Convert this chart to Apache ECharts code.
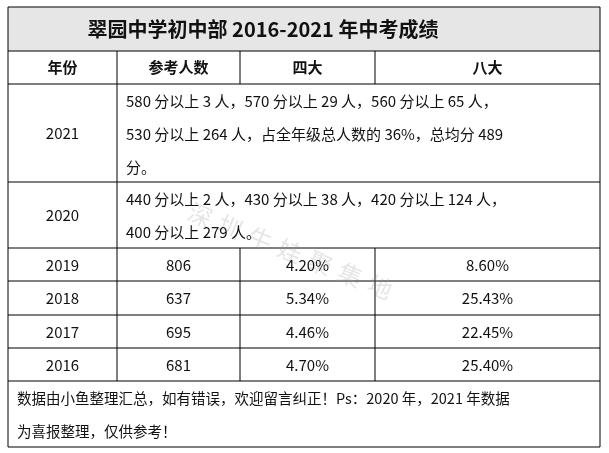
<!DOCTYPE html>
<html><head><meta charset="utf-8">
<script src="https://cdn.jsdelivr.net/npm/echarts@6/dist/echarts.min.js"></script>
<style>html,body{margin:0;background:#fff}#c{width:609px;height:453px}</style>
</head><body><div id="c"></div>
<script>
var title = '翠园中学初中部 2016-2021 年中考成绩';
var headers = ['年份', '参考人数', '四大', '八大'];
var noteYears = ['2021', '2020'];
var noteLines = [
  ['580 分以上 3 人，570 分以上 29 人，560 分以上 65 人，', '530 分以上 264 人，占全年级总人数的 36%，总均分 489', '分。'],
  ['440 分以上 2 人，430 分以上 38 人，420 分以上 124 人，', '400 分以上 279 人。']
];
var years = ['2019', '2018', '2017', '2016'];
var candidates = ['806', '637', '695', '681'];
var siDa = ['4.20%', '5.34%', '4.46%', '4.70%'];
var baDa = ['8.60%', '25.43%', '22.45%', '25.40%'];
var footer = ['数据由小鱼整理汇总，如有错误，欢迎留言纠正！Ps：2020 年，2021 年数据', '为喜报整理，仅供参考！'];

var L = 8, R = 600, cols = [8, 117, 240, 375, 600];
var font = '"Noto Sans CJK SC", sans-serif';
var g = [];
function line(x1, y1, x2, y2) { g.push({type: 'line', shape: {x1: x1, y1: y1, x2: x2, y2: y2}, style: {stroke: '#000', lineWidth: 1}}); }
function txt(s, x, y, opt) {
  opt = opt || {};
  g.push({type: 'text', x: x, y: y, z: 10, style: {text: s, fill: '#111', font: (opt.bold ? 'bold ' : '') + (opt.size || 15) + 'px ' + font, textAlign: opt.align || 'center', textVerticalAlign: 'middle'}});
}
// title band
g.push({type: 'rect', shape: {x: L, y: 7, width: R - L, height: 44}, style: {fill: '#e6e6e6'}});
txt(title, 263, 29, {bold: true, size: 20});
// header
headers.forEach(function (h, i) { txt(h, (cols[i] + cols[i + 1]) / 2, 67, {bold: true}); });
// note rows
var noteTop = [84, 182], noteBot = [182, 248];
noteYears.forEach(function (y, i) {
  txt(y, (cols[0] + cols[1]) / 2, (noteTop[i] + noteBot[i]) / 2);
  noteLines[i].forEach(function (s, j) { txt(s, 126, noteTop[i] + 17 + j * 33, {align: 'left'}); });
});
// data rows
var rowTop = [248, 281, 315, 348];
years.forEach(function (y, i) {
  var cy = rowTop[i] + 17;
  [y, candidates[i], siDa[i], baDa[i]].forEach(function (v, k) { txt(v, (cols[k] + cols[k + 1]) / 2, cy); });
});
// footer
footer.forEach(function (s, j) { txt(s, 17, 398 + j * 33, {align: 'left', size: 14.5}); });
// watermark
'深圳牛娃聚集地'.split('').forEach(function (ch, i) {
  g.push({type: 'text', x: 200 + i * 30, y: 215 + i * 12, rotation: -0.4, z: 5, style: {text: ch, fill: 'rgba(150,150,150,0.25)', font: '24px ' + font, textAlign: 'center', textVerticalAlign: 'middle'}});
});
// grid lines
[7, 51, 84, 182, 248, 281, 315, 348, 381, 447].forEach(function (y) { line(L, y, R, y); });
line(L, 7, L, 447); line(R, 7, R, 447);
line(117, 51, 117, 381);
[240, 375].forEach(function (x) { line(x, 51, x, 84); line(x, 248, x, 381); });

var chart = echarts.init(document.getElementById('c'));
chart.setOption({graphic: g});
</script></body></html>
